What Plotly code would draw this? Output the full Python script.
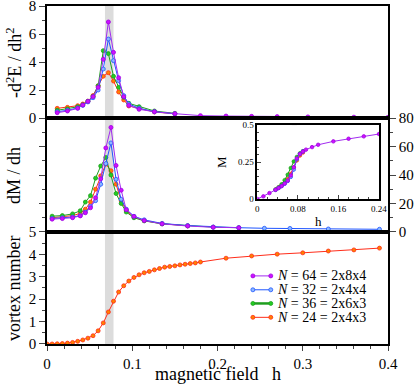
import plotly.graph_objects as go

# ---- data ------------------------------------------------------------------
# top panel: -d2E/dh2
h_top = [0.012, 0.024, 0.036, 0.042, 0.048, 0.054, 0.060, 0.066, 0.072, 0.078,
         0.084, 0.090, 0.096, 0.108, 0.126, 0.150]
h_top_long = h_top + [0.180, 0.210, 0.240, 0.270, 0.306, 0.360, 0.400]
e64 = [0.38, 0.50, 0.69, 0.93, 1.19, 1.53, 2.19, 4.19, 6.86, 4.69,
       2.88, 1.52, 0.90, 0.62, 0.45, 0.31, 0.17, 0.14, 0.12, 0.10, 0.08, 0.06, 0.05]
e32 = [0.45, 0.55, 0.72, 0.90, 1.15, 1.45, 2.00, 3.50, 5.64, 4.10,
       2.67, 1.60, 1.00, 0.70, 0.45, 0.30]
e36 = [0.55, 0.65, 0.80, 0.95, 1.20, 1.55, 2.30, 4.81, 4.60, 2.98,
       2.19, 1.48, 1.05, 0.81, 0.50, 0.33]
e24 = [0.69, 0.76, 0.88, 1.00, 1.20, 1.60, 2.30, 2.98, 3.24, 2.64,
       1.86, 1.29, 0.86, 0.69, 0.43, 0.30]

# middle panel: dM/dh
h_mid = [0.006, 0.018, 0.030, 0.039, 0.045, 0.051, 0.057, 0.063, 0.069, 0.075,
         0.081, 0.087, 0.093, 0.102, 0.114, 0.135, 0.165]
h_mid_long = h_mid + [0.195, 0.225, 0.255, 0.285, 0.330, 0.390]
m64 = [9.0, 9.4, 10.0, 11.3, 13.5, 17.0, 24.0, 37.3, 59.0, 73.4,
       46.7, 29.3, 15.6, 10.9, 8.0, 5.7, 4.2, 3.3, 3.0]
m32 = [9.5, 10.0, 10.5, 11.5, 14.0, 18.0, 22.0, 33.5, 48.0, 62.5,
       37.0, 23.0, 16.0, 11.0, 8.5, 6.0, 4.5, 3.5, 3.0, 2.6, 2.5, 2.1, 1.9]
m36 = [11.1, 11.5, 12.7, 14.9, 21.0, 25.5, 37.8, 46.3, 52.3, 40.0,
       27.0, 20.0, 14.0, 10.0, 7.8, 5.7, 4.3, 3.4, 3.0]
m24 = [10.0, 10.5, 11.5, 13.0, 16.0, 21.0, 30.0, 39.4, 47.7, 43.0,
       33.5, 22.0, 15.0, 10.5, 8.0, 5.8, 4.3]

# bottom panel: vortex number, N = 24
h_vort = [0.000, 0.006, 0.012, 0.018, 0.024, 0.030, 0.036, 0.042, 0.048, 0.054,
          0.060, 0.066, 0.072, 0.078, 0.084, 0.090, 0.096, 0.102, 0.108, 0.114,
          0.120, 0.126, 0.132, 0.138, 0.144, 0.150, 0.156, 0.162, 0.168, 0.174,
          0.180, 0.210, 0.240, 0.270, 0.300, 0.330, 0.360, 0.390]
vortex = [0.00, 0.00, 0.01, 0.02, 0.04, 0.07, 0.12, 0.18, 0.26, 0.37,
          0.59, 0.94, 1.43, 1.91, 2.32, 2.60, 2.81, 2.97, 3.09, 3.18,
          3.24, 3.31, 3.37, 3.43, 3.46, 3.49, 3.53, 3.56, 3.59, 3.62,
          3.66, 3.83, 3.93, 4.01, 4.07, 4.15, 4.20, 4.28]

# inset: magnetisation M(h)
h_in64 = [0.000, 0.012, 0.024, 0.036, 0.042, 0.048, 0.054, 0.060, 0.066, 0.072,
          0.078, 0.084, 0.090, 0.096, 0.108, 0.120, 0.150, 0.180, 0.210, 0.240]
M64 = [0.000, 0.018, 0.040, 0.062, 0.075, 0.088, 0.105, 0.125, 0.160, 0.215,
       0.275, 0.305, 0.322, 0.335, 0.352, 0.368, 0.391, 0.409, 0.425, 0.441]
h_in = [0.036, 0.042, 0.048, 0.054, 0.060, 0.066, 0.072, 0.078, 0.084, 0.090]
M32 = [0.062, 0.074, 0.087, 0.103, 0.122, 0.150, 0.200, 0.270, 0.305, 0.322]
M36 = [0.065, 0.080, 0.100, 0.128, 0.165, 0.210, 0.255, 0.285, 0.310, 0.325]
M24 = [0.064, 0.078, 0.093, 0.110, 0.135, 0.170, 0.215, 0.262, 0.295, 0.315]

band = [0.068, 0.078]

sizes = [64, 32, 36, 24]
names = ["<i>N</i> = 64 = 2x8x4", "<i>N</i> = 32 = 2x4x4",
         "<i>N</i> = 36 = 2x6x3", "<i>N</i> = 24 = 2x4x3"]
# (line colour, marker fill, marker edge)
styles = {
    64: ("#a22cf0", "#cc11ff", "#a000e0"),
    32: ("#1f55ff", "#8ab8ff", "#1f55ff"),
    36: ("#1e9e1e", "#22cc22", "#1e9e1e"),
    24: ("#ff2d1a", "#ff8000", "#ff2d1a"),
}

FONT = "Liberation Serif, Times New Roman, DejaVu Serif, serif"


def trace(x, y, n, xa, ya, size=4):
    line, fill, edge = styles[n]
    return go.Scatter(
        x=x, y=y, mode="lines+markers", xaxis=xa, yaxis=ya, showlegend=False,
        line=dict(color=line, width=1),
        marker=dict(size=size, color=fill, line=dict(color=edge, width=0.8)),
        hoverinfo="x+y",
    )


fig = go.Figure()

# draw red first so purple ends on top
fig.add_trace(trace(h_top, e24, 24, "x", "y"))
fig.add_trace(trace(h_top, e36, 36, "x", "y"))
fig.add_trace(trace(h_top, e32, 32, "x", "y"))
fig.add_trace(trace(h_top_long, e64, 64, "x", "y"))

fig.add_trace(trace(h_mid, m24, 24, "x2", "y2"))
fig.add_trace(trace(h_mid_long[:len(m36)], m36, 36, "x2", "y2"))
fig.add_trace(trace(h_mid_long, m32, 32, "x2", "y2"))
fig.add_trace(trace(h_mid_long[:len(m64)], m64, 64, "x2", "y2"))

fig.add_trace(trace(h_vort, vortex, 24, "x3", "y3"))

fig.add_trace(trace(h_in, M24, 24, "x4", "y4", size=3.5))
fig.add_trace(trace(h_in, M36, 36, "x4", "y4", size=3.5))
fig.add_trace(trace(h_in, M32, 32, "x4", "y4", size=3.5))
fig.add_trace(trace(h_in64, M64, 64, "x4", "y4", size=3.5))

# hand-made legend in the bottom panel (plotly's own rows are too tall here)
leg_h = [0.2415, 0.2625]
leg_text_h = 0.268
leg_rows = [3.04, 2.42, 1.81, 1.19]
for n, name, ry in zip(sizes, names, leg_rows):
    line, fill, edge = styles[n]
    fig.add_trace(go.Scatter(
        x=leg_h, y=[ry, ry], xaxis="x3", yaxis="y3",
        mode="lines+markers", showlegend=False, hoverinfo="skip",
        line=dict(color=line, width=1 if n != 36 else 2.5),
        marker=dict(size=4, color=fill, line=dict(color=edge, width=0.8)),
    ))
    fig.add_annotation(x=leg_text_h, y=ry, xref="x3", yref="y3", text=name,
                       showarrow=False, xanchor="left", yanchor="middle",
                       font=dict(family=FONT, size=14, color="black"))

# grey transition band in every panel
for xr, yr in [("x", "y"), ("x2", "y2"), ("x3", "y3"), ("x4", "y4")]:
    fig.add_shape(type="rect", xref=xr, yref=yr + " domain",
                  x0=band[0], x1=band[1], y0=0, y1=1,
                  fillcolor="#dcdcdc", line_width=0, layer="below")

# axis titles as annotations so they sit where the reference has them
titlefont = dict(family=FONT, size=18, color="black")
d_top = [0.6686, 1.0]
d_mid = [0.3314, 0.6686]
d_bot = [0.0, 0.3314]
for text, dom in [("-d<sup>2</sup>E / dh<sup>2</sup>", d_top),
                  ("dM / dh", d_mid), ("vortex number", d_bot)]:
    fig.add_annotation(x=-0.097, y=(dom[0] + dom[1]) / 2, xref="paper", yref="paper",
                       text=text, textangle=-90, showarrow=False,
                       xanchor="center", yanchor="middle", font=titlefont)
fig.add_annotation(x=0.5, y=-0.09, xref="paper", yref="paper",
                   text="magnetic field\u00a0\u00a0\u00a0h", showarrow=False,
                   xanchor="center", yanchor="middle", font=titlefont)

frame = dict(showline=True, linecolor="black", linewidth=1.5, mirror=True,
             showgrid=False, zeroline=False, automargin=False)
tickfont = dict(family=FONT, size=15, color="black")
smallfont = dict(family=FONT, size=9, color="black")

fig.update_layout(
    template="none",
    width=415, height=386,
    margin=dict(l=47, r=27, t=6, b=42),
    plot_bgcolor="white", paper_bgcolor="white",
    font=dict(family=FONT, color="black"),
    showlegend=False,
    xaxis=dict(domain=[0, 1], anchor="y", range=[0, 0.4], showticklabels=False,
               ticks="", **frame),
    yaxis=dict(domain=d_top, anchor="x", range=[0, 8], dtick=2, ticks="outside",
               ticklen=6, minor=dict(dtick=1, ticks="outside", ticklen=3),
               tickfont=tickfont, ticklabeloverflow="allow", **frame),
    xaxis2=dict(domain=[0, 1], anchor="y2", range=[0, 0.4], showticklabels=False,
                ticks="", **frame),
    yaxis2=dict(domain=d_mid, anchor="x2", range=[0, 80], dtick=20, side="right",
                ticks="outside", ticklen=6,
                minor=dict(dtick=10, ticks="outside", ticklen=3),
                tickfont=tickfont,
                showline=True, linecolor="black", linewidth=1.5, mirror="ticks",
                showgrid=False, zeroline=False, automargin=False),
    xaxis3=dict(domain=[0, 1], anchor="y3", range=[0, 0.4],
                tickvals=[0, 0.1, 0.2, 0.3, 0.4],
                ticktext=["0", "0.1", "0.2", "0.3", "0.4"],
                ticks="outside", ticklen=5,
                minor=dict(dtick=0.02, ticks="outside", ticklen=3),
                tickfont=tickfont, ticklabeloverflow="allow", **frame),
    yaxis3=dict(domain=d_bot, anchor="x3", range=[0, 5], dtick=1, ticks="outside",
                ticklen=6, minor=dict(dtick=0.5, ticks="outside", ticklen=3),
                tickfont=tickfont, **frame),
    xaxis4=dict(domain=[0.6167, 0.9736], anchor="y4", range=[0, 0.24],
                tickvals=[0, 0.08, 0.16, 0.24],
                ticktext=["0", "0.08", "0.16", "0.24"],
                ticks="inside", ticklen=4,
                minor=dict(dtick=0.02, ticks="inside", ticklen=2),
                tickfont=smallfont,
                title=dict(text="h", font=dict(family=FONT, size=13, color="black"),
                           standoff=4),
                **frame),
    yaxis4=dict(domain=[0.429, 0.647], anchor="x4", range=[0, 0.5],
                tickvals=[0, 0.25, 0.5], ticktext=["0", "0.25", "0.5"],
                ticks="inside", ticklen=4,
                minor=dict(dtick=0.05, ticks="inside", ticklen=2),
                tickfont=smallfont,
                title=dict(text="M", font=dict(family=FONT, size=13, color="black"),
                           standoff=8),
                **frame),
)

# the page body has a default 8px margin; drop it so the figure fills the window
fig.write_html("out.html", config={"displayModeBar": False},
               post_script="document.body.style.margin='0';")
